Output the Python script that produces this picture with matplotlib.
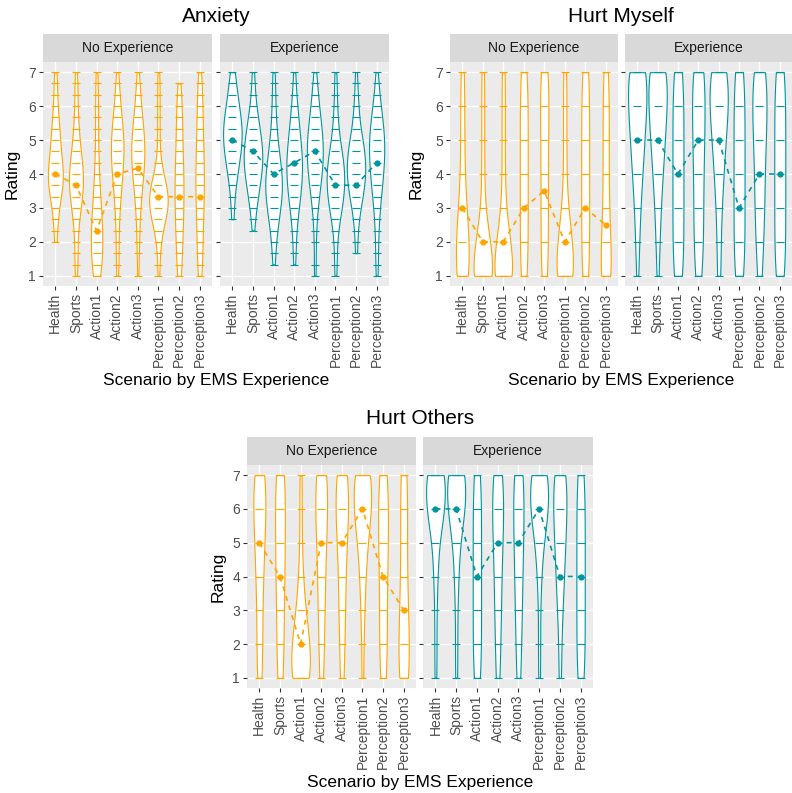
import numpy as np
import matplotlib.pyplot as plt

plt.rcParams['font.family'] = ['Liberation Sans', 'DejaVu Sans']

scenarios = ["Health", "Sports", "Action1", "Action2", "Action3",
             "Perception1", "Perception2", "Perception3"]

# anxiety is the mean of three 1-7 items -> steps of 1/3
anx_levels = np.arange(3, 22) / 3.0
int_levels = np.array([1, 2, 3, 4, 5, 6, 7])

# counts of respondents per rating level (one list per scenario)
anx_no = [
    [0, 0, 0, 1, 1, 1, 2, 3, 4, 6, 3, 3, 3, 2, 2, 1, 1, 1, 1],
    [1, 1, 1, 1, 1, 2, 3, 4, 5, 5, 4, 3, 2, 2, 1, 1, 1, 1, 1],
    [4, 4, 4, 5, 4, 4, 3, 2, 2, 2, 1, 1, 1, 1, 1, 1, 1, 1, 1],
    [1, 1, 1, 1, 1, 1, 2, 2, 3, 4, 4, 5, 5, 4, 3, 2, 2, 1, 1],
    [1, 0, 1, 1, 1, 1, 2, 2, 3, 4, 5, 5, 5, 4, 3, 2, 2, 1, 1],
    [1, 1, 1, 2, 3, 6, 9, 9, 7, 4, 2, 1, 1, 1, 1, 1, 1, 1, 1],
    [2, 2, 2, 2, 2, 3, 3, 3, 3, 3, 3, 2, 2, 2, 2, 2, 2, 1, 0],
    [2, 2, 2, 2, 2, 2, 3, 3, 3, 3, 3, 3, 2, 2, 2, 2, 2, 2, 1],
]
anx_ex = [
    [0, 0, 0, 0, 0, 1, 1, 1, 2, 3, 4, 5, 6, 6, 5, 4, 3, 2, 2],
    [0, 0, 0, 0, 1, 1, 2, 3, 4, 5, 6, 6, 5, 4, 3, 2, 1, 1, 1],
    [0, 1, 1, 1, 2, 3, 4, 5, 6, 5, 4, 3, 2, 2, 1, 1, 1, 1, 1],
    [0, 1, 1, 1, 1, 2, 3, 4, 5, 5, 6, 5, 4, 3, 3, 2, 1, 1, 1],
    [1, 1, 0, 1, 1, 1, 2, 3, 4, 5, 6, 6, 6, 5, 4, 3, 2, 2, 1],
    [1, 1, 1, 1, 2, 3, 5, 6, 7, 7, 6, 5, 3, 2, 2, 1, 1, 1, 1],
    [0, 0, 1, 1, 1, 2, 3, 5, 6, 7, 7, 6, 5, 3, 2, 2, 1, 1, 1],
    [1, 1, 1, 1, 1, 2, 2, 3, 4, 5, 5, 6, 6, 5, 4, 3, 2, 1, 1],
]
anx_no_med = [4.0, 3.67, 2.33, 4.0, 4.17, 3.33, 3.33, 3.33]
anx_ex_med = [5.0, 4.67, 4.0, 4.33, 4.67, 3.67, 3.67, 4.33]

self_no = [
    [8, 7, 4, 2, 2, 2, 2],
    [16, 10, 3, 2, 2, 2, 2],
    [14, 9, 3, 2, 2, 2, 2],
    [4, 4, 4, 4, 4, 4, 4],
    [4, 4, 4, 4, 4, 5, 5],
    [12, 9, 4, 2, 2, 2, 2],
    [4, 4, 4, 4, 4, 4, 4],
    [10, 6, 4, 4, 4, 4, 4],
]
self_ex = [
    [1, 2, 3, 5, 7, 9, 10],
    [1, 2, 3, 5, 7, 9, 10],
    [4, 4, 4, 4, 4, 4, 4],
    [3, 4, 4, 4, 5, 5, 6],
    [2, 2, 3, 5, 7, 10, 10],
    [4, 4, 4, 4, 4, 4, 4],
    [2, 3, 4, 4, 5, 6, 6],
    [4, 4, 4, 4, 4, 4, 4],
]
self_no_med = [3, 2, 2, 3, 3.5, 2, 3, 2.5]
self_ex_med = [5, 5, 4, 5, 5, 3, 4, 4]

others_no = [
    [3, 3, 3, 4, 5, 7, 7],
    [3, 3, 3, 4, 4, 4, 5],
    [9, 8, 4, 2, 1, 1, 1],
    [2, 2, 3, 3, 4, 5, 6],
    [2, 2, 3, 3, 4, 6, 6],
    [1, 1, 2, 3, 5, 9, 9],
    [3, 3, 3, 3, 4, 4, 4],
    [6, 5, 4, 3, 3, 3, 4],
]
others_ex = [
    [1, 1, 1, 2, 3, 9, 10],
    [1, 1, 1, 2, 3, 8, 9],
    [4, 4, 4, 4, 4, 4, 4],
    [2, 2, 3, 3, 4, 5, 5],
    [2, 2, 3, 3, 4, 4, 5],
    [1, 1, 1, 2, 4, 9, 9],
    [1, 1, 2, 3, 4, 5, 5],
    [4, 4, 4, 4, 4, 4, 4],
]
others_no_med = [5, 4, 2, 5, 5, 6, 4, 3]
others_ex_med = [6, 6, 4, 5, 5, 6, 4, 4]

ORANGE = "#FFA500"
TEAL = "#00959E"
W, H = 792, 793


def rect(x0, y0, x1, y1):
    return [x0 / W, 1 - y1 / H, (x1 - x0) / W, (y1 - y0) / H]


def nrd0(x):
    sd = np.std(x, ddof=1)
    q75, q25 = np.percentile(x, [75, 25])
    lo = min(sd, (q75 - q25) / 1.34)
    if lo == 0:
        lo = sd
    return 0.9 * lo * len(x) ** -0.2


def density(levels, counts):
    x = np.repeat(levels, counts)
    bw = nrd0(x)
    y = np.linspace(x.min(), x.max(), 512)
    d = np.exp(-0.5 * ((y[:, None] - x[None, :]) / bw) ** 2).sum(1)
    d = d / (len(x) * bw * np.sqrt(2 * np.pi))
    return y, d


def panel(fig, box, levels, counts, meds, color, strip, show_y):
    x0, y0, x1, y1 = box
    sax = fig.add_axes(rect(x0, y0 - 28, x1, y0))
    sax.set_facecolor("#D9D9D9")
    sax.set_xticks([])
    sax.set_yticks([])
    for s in sax.spines.values():
        s.set_visible(False)
    sax.text(0.5, 0.5, strip, ha="center", va="center", fontsize=10,
             color="#1A1A1A", transform=sax.transAxes)

    ax = fig.add_axes(rect(x0, y0, x1, y1))
    ax.set_facecolor("#EBEBEB")
    for s in ax.spines.values():
        s.set_visible(False)
    ax.grid(True, color="white", lw=1.0)
    ax.set_axisbelow(True)

    dens = [density(levels, c) for c in counts]
    dmax = max(d.max() for _, d in dens)
    for i, (yy, d) in enumerate(dens):
        hw = 0.45 * d / dmax
        ax.fill_betweenx(yy, i + 1 - hw, i + 1 + hw, facecolor="white",
                         edgecolor=color, lw=0.8, zorder=2)
        present = [lv for lv, c in zip(levels, counts[i]) if c > 0]
        ax.plot([i + 1] * len(present), present, ls="none", marker="_",
                ms=6, mew=0.8, color=color, zorder=3)
    ax.plot(range(1, 9), meds, ls="--", dashes=(3, 3), color=color, lw=1.2,
            marker="o", ms=3.5, zorder=4)

    ax.set_xlim(0.4, 8.6)
    ax.set_ylim(0.7, 7.3)
    ax.set_xticks(range(1, 9))
    ax.set_xticklabels(scenarios, rotation=90)
    ax.set_yticks(range(1, 8))
    if not show_y:
        ax.tick_params(axis="y", length=0, labelleft=False)
    ax.tick_params(color="#333333", length=3, width=0.8, labelcolor="#4D4D4D",
                   labelsize=10, pad=2)
    return ax


fig = plt.figure(figsize=(W / 100, H / 100), dpi=100)

# Anxiety
panel(fig, (43, 62, 212, 286), anx_levels, anx_no, anx_no_med, ORANGE, "No Experience", True)
panel(fig, (220, 62, 389, 286), anx_levels, anx_ex, anx_ex_med, TEAL, "Experience", False)
fig.text(216 / W, 1 - 17 / H, "Anxiety", ha="center", va="center", fontsize=15)
fig.text(216 / W, 1 - 380 / H, "Scenario by EMS Experience", ha="center", va="center", fontsize=12.5)
fig.text(12 / W, 1 - 174 / H, "Rating", ha="center", va="center", rotation=90, fontsize=12.5)

# Hurt Myself
panel(fig, (450, 62, 618, 286), int_levels, self_no, self_no_med, ORANGE, "No Experience", True)
panel(fig, (625, 62, 792, 286), int_levels, self_ex, self_ex_med, TEAL, "Experience", False)
fig.text(621 / W, 1 - 17 / H, "Hurt Myself", ha="center", va="center", fontsize=15)
fig.text(621 / W, 1 - 380 / H, "Scenario by EMS Experience", ha="center", va="center", fontsize=12.5)
fig.text(416 / W, 1 - 174 / H, "Rating", ha="center", va="center", rotation=90, fontsize=12.5)

# Hurt Others
panel(fig, (247, 465, 416, 688), int_levels, others_no, others_no_med, ORANGE, "No Experience", True)
panel(fig, (423, 465, 593, 688), int_levels, others_ex, others_ex_med, TEAL, "Experience", False)
fig.text(420 / W, 1 - 418 / H, "Hurt Others", ha="center", va="center", fontsize=15)
fig.text(420 / W, 1 - 783 / H, "Scenario by EMS Experience", ha="center", va="center", fontsize=12.5)
fig.text(218 / W, 1 - 577 / H, "Rating", ha="center", va="center", rotation=90, fontsize=12.5)

fig.savefig("out.png", dpi=100)
